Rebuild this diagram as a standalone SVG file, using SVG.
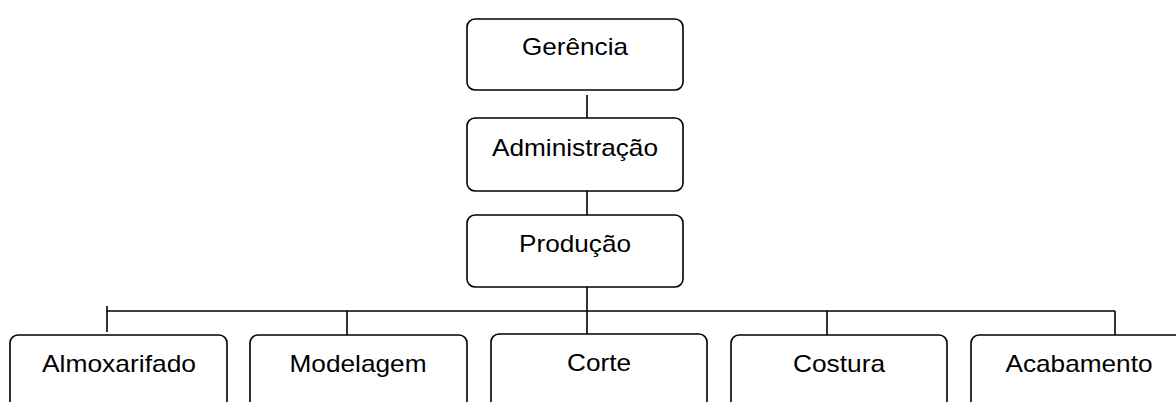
<svg xmlns="http://www.w3.org/2000/svg" width="1176" height="402" viewBox="0 0 1176 402">
<style>
.box{fill:#fff;stroke:#000;stroke-width:1.6}
.lbl{font-family:"Liberation Sans",Arial,sans-serif;font-size:24px;fill:#000;text-anchor:middle}
.ln{stroke:#000;stroke-width:1.6;fill:none}
</style>
<rect width="1176" height="402" fill="#fff"/>
<g id="connectors">
<line class="ln" x1="587" y1="95" x2="587" y2="118"/>
<line class="ln" x1="587" y1="191" x2="587" y2="215"/>
<line class="ln" x1="587" y1="287" x2="587" y2="334"/>
<line class="ln" x1="107" y1="311" x2="1115" y2="311"/>
<line class="ln" x1="107" y1="306" x2="107" y2="332"/>
<line class="ln" x1="347" y1="311" x2="347" y2="335"/>
<line class="ln" x1="827" y1="311" x2="827" y2="335"/>
<line class="ln" x1="1115" y1="311" x2="1115" y2="335"/>
</g>
<g id="gerencia"><rect class="box" x="467" y="19" width="216" height="71" rx="8"/><text class="lbl" x="575" y="55" textLength="106" lengthAdjust="spacingAndGlyphs">Gerência</text></g>
<g id="administracao"><rect class="box" x="467" y="118" width="216" height="73" rx="8"/><text class="lbl" x="575" y="156" textLength="166" lengthAdjust="spacingAndGlyphs">Administração</text></g>
<g id="producao"><rect class="box" x="467" y="215" width="216" height="72" rx="8"/><text class="lbl" x="575" y="252" textLength="112" lengthAdjust="spacingAndGlyphs">Produção</text></g>
<g id="almoxarifado"><rect class="box" x="10" y="335" width="217" height="80" rx="8"/><text class="lbl" x="119" y="372" textLength="154" lengthAdjust="spacingAndGlyphs">Almoxarifado</text></g>
<g id="modelagem"><rect class="box" x="250" y="335" width="217" height="80" rx="8"/><text class="lbl" x="358" y="372" textLength="137" lengthAdjust="spacingAndGlyphs">Modelagem</text></g>
<g id="corte"><rect class="box" x="491" y="334" width="216" height="80" rx="8"/><text class="lbl" x="599" y="371" textLength="64" lengthAdjust="spacingAndGlyphs">Corte</text></g>
<g id="costura"><rect class="box" x="731" y="335" width="216" height="80" rx="8"/><text class="lbl" x="839" y="372" textLength="92" lengthAdjust="spacingAndGlyphs">Costura</text></g>
<g id="acabamento"><rect class="box" x="971" y="335" width="216" height="80" rx="8"/><text class="lbl" x="1079" y="372" textLength="147" lengthAdjust="spacingAndGlyphs">Acabamento</text></g>
</svg>
